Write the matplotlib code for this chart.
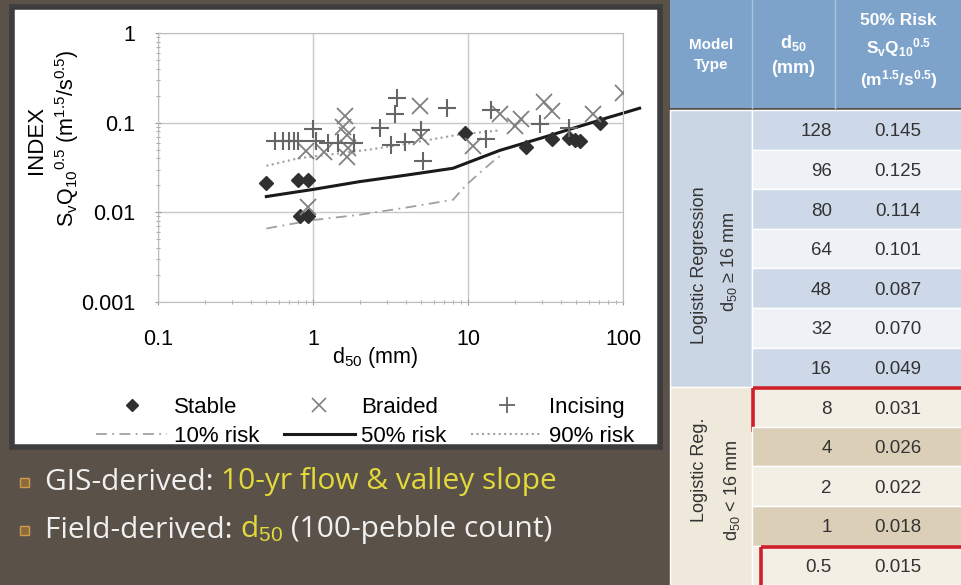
import matplotlib
matplotlib.use('Agg')
import matplotlib.pyplot as plt
from matplotlib.patches import Rectangle
from matplotlib.lines import Line2D

# observed reaches: median grain size d50 [mm] and index Sv*Q10^0.5
stable_d50 = [0.5, 0.8, 0.93, 0.82, 0.93, 9.5, 23.5, 35, 45, 49, 53, 71]
stable_idx = [0.021, 0.023, 0.023, 0.009, 0.009, 0.076, 0.054, 0.066, 0.068, 0.064, 0.062, 0.098]

braided_d50 = [0.9, 0.93, 1.18, 1.6, 1.57, 1.65, 1.68, 1.65, 4.9, 5.0, 10.8,
               16.2, 20, 22, 31, 35, 64, 100]
braided_idx = [0.048, 0.0115, 0.047, 0.118, 0.09, 0.073, 0.052, 0.041, 0.152, 0.07, 0.055,
               0.124, 0.091, 0.11, 0.172, 0.134, 0.125, 0.215]

incising_d50 = [0.57, 0.64, 0.7, 0.75, 0.8, 1.0, 1.05, 1.25, 1.45, 1.85, 2.7, 3.2, 3.4,
                3.5, 3.9, 5.0, 5.1, 7.3, 13, 14, 29, 45]
incising_idx = [0.063, 0.063, 0.063, 0.063, 0.063, 0.086, 0.062, 0.06, 0.06, 0.06, 0.088, 0.056, 0.126,
                0.19, 0.061, 0.082, 0.037, 0.145, 0.066, 0.14, 0.096, 0.088]

# risk curves
risk10_d50 = [0.5, 1, 2, 4, 8, 9.3, 10, 12.3, 14.5, 16]
risk10_idx = [0.0066, 0.0082, 0.0094, 0.0113, 0.0138, 0.0185, 0.021, 0.029, 0.037, 0.042]
risk50_d50 = [0.5, 1, 2, 4, 8, 16, 32, 48, 64, 80, 96, 128]
risk50_idx = [0.015, 0.018, 0.022, 0.026, 0.031, 0.049, 0.070, 0.087, 0.101, 0.114, 0.125, 0.145]
risk90_d50 = [0.5, 0.8, 2.3, 4, 8.9, 16]
risk90_idx = [0.033, 0.04, 0.05, 0.058, 0.074, 0.082]

# table groups
model_upper = ['Logistic Regression', 'd$_{50}$ ≥ 16 mm']
model_lower = ['Logistic Reg.', 'd$_{50}$ < 16 mm']
highlight_rows = [8, 0.5]

plt.rcParams['font.family'] = ['Liberation Sans', 'DejaVu Sans']
plt.rcParams['mathtext.fontset'] = 'custom'
plt.rcParams['mathtext.rm'] = 'Liberation Sans'
plt.rcParams['mathtext.it'] = 'Liberation Sans:italic'
plt.rcParams['mathtext.bf'] = 'Liberation Sans:bold'

W, H = 962, 585
fig = plt.figure(figsize=(W/100, H/100), dpi=100, facecolor='#5a5248')

# full-figure axes in pixel coordinates for the slide decoration and table
bg = fig.add_axes([0, 0, 1, 1])
bg.set_xlim(0, W)
bg.set_ylim(H, 0)
bg.axis('off')

# white chart panel
bg.add_patch(Rectangle((12, 7), 648, 440, facecolor='white', edgecolor='#3d3d3d', linewidth=4))

# bullets and bottom text
bulletFont = {'family': ['Open Sans', 'DejaVu Sans'], 'fontsize': 21.5}
white, yellow = '#f0f0f0', '#e3d83c'
for yb in (482, 530):
    bg.add_patch(Rectangle((20, yb-4), 9, 9, facecolor='#8c6a3c', edgecolor='#d29a4c', linewidth=1))
t1 = bg.text(45, 482, 'GIS-derived: ', color=white, va='center', **bulletFont)
bg.annotate('10-yr flow & valley slope', xy=(1, 0), xycoords=t1, va='bottom', color=yellow, **bulletFont)
t2 = bg.text(45, 530, 'Field-derived: ', color=white, va='center', **bulletFont)
t3 = bg.annotate('d$_{50}$', xy=(1, 0), xycoords=t2, va='bottom', color=yellow, **bulletFont)
bg.annotate(' (100-pebble count)', xy=(1, 0), xycoords=t3, va='bottom', color=white, **bulletFont)

# table
x0, xc1, xc2, x3 = 670, 752, 835, 962
rowTop, rowH = 110, 39.6
bg.add_patch(Rectangle((x0, 0), x3-x0, 108, facecolor='#7ea3cb', edgecolor='none'))
bg.plot([xc1, xc1], [0, 108], color='#a9c3df', lw=1)
bg.plot([xc2, xc2], [0, 108], color='#a9c3df', lw=1)
hdr = {'color': 'white', 'fontweight': 'bold', 'ha': 'center', 'va': 'center', 'linespacing': 1.5}
bg.text((x0+xc1)/2, 55, 'Model\nType', fontsize=11, **hdr)
bg.text((xc1+xc2)/2, 55, r'd$_\mathbf{50}$' + '\n(mm)', fontsize=13, **hdr)
bg.text((xc2+x3)/2, 52, '50% Risk\n' + r'S$_\mathbf{v}$Q$_\mathbf{10}$$^\mathbf{0.5}$' + '\n'
        + r'(m$^\mathbf{1.5}$/s$^\mathbf{0.5}$)', fontsize=12.5, **hdr)

rows = list(zip(risk50_d50[::-1], risk50_idx[::-1]))
nUpper = sum(1 for d, _ in rows if d >= 16)
bg.add_patch(Rectangle((x0, rowTop), xc1-x0, nUpper*rowH, facecolor='#cbd6e5', edgecolor='white', lw=1))
bg.add_patch(Rectangle((x0, rowTop+nUpper*rowH), xc1-x0, (len(rows)-nUpper)*rowH,
                       facecolor='#efe9dc', edgecolor='white', lw=1))
for i, (d, v) in enumerate(rows):
    y = rowTop + i*rowH
    if d >= 16:
        fc = '#cdd9e8' if i % 2 == 0 else '#eef2f7'
    else:
        fc = '#f4efe4' if (i-nUpper) % 2 == 0 else '#dccfb7'
    bg.add_patch(Rectangle((xc1, y), x3-xc1, rowH, facecolor=fc, edgecolor='white', lw=1))
    bg.text(xc2-3, y+rowH/2+2, '{:g}'.format(d), fontsize=13.5, color='#333333', ha='right', va='center')
    bg.text(898, y+rowH/2+2, '{:.3f}'.format(v), fontsize=13.5, color='#333333', ha='center', va='center')
    if d in highlight_rows:
        off = 0 if d >= 1 else 8
        bg.add_patch(Rectangle((xc1+1+off, y+1), x3-xc1+10, rowH+2, fill=False, edgecolor='#cf1f2b',
                               lw=2.6, clip_on=False))

grp = {'fontsize': 13, 'color': '#333333', 'rotation': 90, 'ha': 'center', 'va': 'center'}
bg.text(700, 265, model_upper[0], **grp)
bg.text(729, 262, model_upper[1], **grp)
bg.text(700, 470, model_lower[0], **grp)
bg.text(732, 490, model_lower[1], **grp)

# scatter chart
ax = fig.add_axes([158/W, 1-302/H, 465/W, 269/H])
ax.set_xscale('log')
ax.set_yscale('log')
ax.set_xlim(0.1, 100)
ax.set_ylim(0.001, 1)
ax.grid(True, which='major', color='#c8c8c8', lw=1)
for s in ax.spines.values():
    s.set_color('#bdbdbd')
ax.tick_params(which='major', labelsize=15.5, length=5, direction='inout', color='#999999')
ax.tick_params(which='minor', length=3, direction='inout', color='#999999')
ax.tick_params(axis='x', which='major', pad=17)
ax.tick_params(axis='y', which='major', pad=14)
ax.set_xticks([0.1, 1, 10, 100])
ax.set_xticklabels(['0.1', '1', '10', '100'])
ax.set_yticks([0.001, 0.01, 0.1, 1])
ax.set_yticklabels(['0.001', '0.01', '0.1', '1'])

dashdot = (0, (6, 3, 1, 3))
lineKw = {'clip_on': False, 'zorder': 2}
ax.plot(risk10_d50, risk10_idx, color='#a0a0a0', ls=dashdot, lw=1.3, **lineKw)
ax.plot(risk50_d50, risk50_idx, color='#1a1a1a', lw=2.2, **lineKw)
ax.plot(risk90_d50, risk90_idx, color='#a0a0a0', ls=':', lw=1.5, **lineKw)
ax.plot(stable_d50, stable_idx, 'D', color='#303030', ms=7, zorder=3)
ax.plot(braided_d50, braided_idx, 'x', color='#808080', ms=11, mew=1.3, zorder=3)
ax.plot(incising_d50, incising_idx, '+', color='#666666', ms=13, mew=1.5, zorder=3, clip_on=False)

fig.text(375/W, 1-358/H, 'd$_{50}$ (mm)', fontsize=15.5, ha='center', va='center')
fig.text(36/W, 1-140/H, 'INDEX', fontsize=16, rotation=90, ha='center', va='center')
fig.text(67/W, 1-138/H, r'S$_\mathrm{v}$Q$_\mathrm{10}$$^\mathrm{0.5}$ (m$^\mathrm{1.5}$/s$^\mathrm{0.5}$)',
         fontsize=15.5, rotation=90, ha='center', va='center')

handles = [
    Line2D([], [], marker='D', ls='none', color='#303030', ms=6),
    Line2D([], [], color='#a0a0a0', ls=dashdot, lw=1.3),
    Line2D([], [], marker='x', ls='none', color='#808080', ms=10, mew=1.2),
    Line2D([], [], color='#1a1a1a', lw=2.2),
    Line2D([], [], marker='+', ls='none', color='#666666', ms=12, mew=1.3),
    Line2D([], [], color='#a0a0a0', ls=':', lw=1.5),
]
labels = ['Stable', '10% risk', 'Braided', '50% risk', 'Incising', '90% risk']
fig.legend(handles, labels, ncol=3, loc='upper left', bbox_to_anchor=(76/W, 1-377/H),
           frameon=False, fontsize=16, handlelength=3.2, columnspacing=1.1, handletextpad=0.3,
           labelspacing=0.35)

fig.savefig('out.png', dpi=100, facecolor=fig.get_facecolor())
